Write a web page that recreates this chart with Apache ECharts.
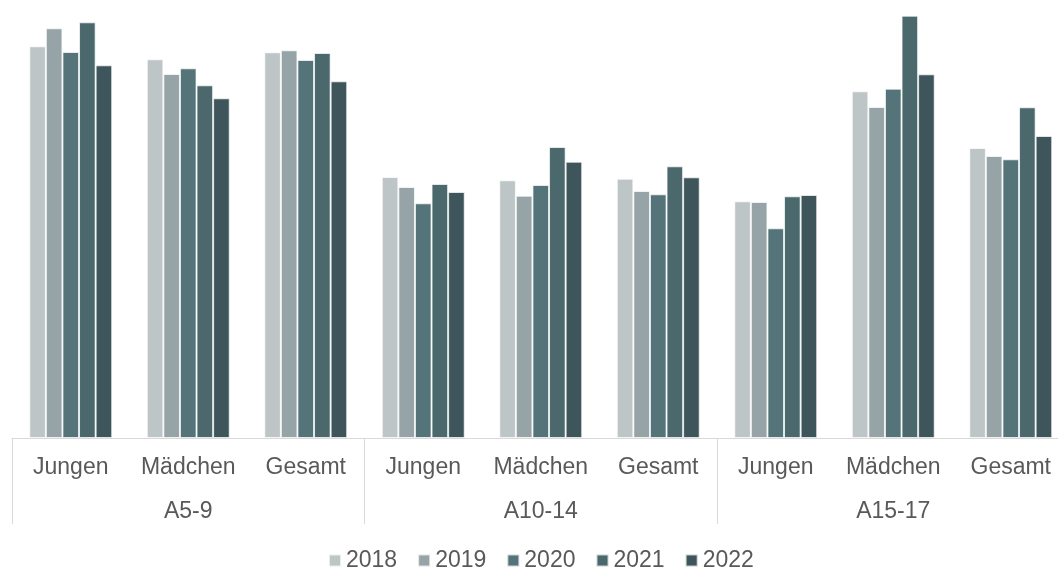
<!DOCTYPE html>
<html>
<head>
<meta charset="utf-8">
<script src="https://cdn.jsdelivr.net/npm/echarts@6/dist/echarts.min.js"></script>
<style>
  html, body { margin: 0; padding: 0; background: #fff; }
  #chart { width: 1058px; height: 571px; }
</style>
</head>
<body>
<div id="chart"></div>
<script>
// categories (inner level) and age groups (outer level)
const categories = ['Jungen', 'Mädchen', 'Gesamt', 'Jungen', 'Mädchen', 'Gesamt', 'Jungen', 'Mädchen', 'Gesamt'];
const groups = ['A5-9', 'A10-14', 'A15-17'];
const years = ['2018', '2019', '2020', '2021', '2022'];

// values (no y axis shown, relative units)
const values2018 = [391.7, 378.7, 385.7, 261.0, 257.7, 259.3, 236.7, 346.7, 290.0];
const values2019 = [409.7, 364.0, 387.7, 251.0, 242.3, 247.0, 236.0, 331.0, 282.0];
const values2020 = [386.0, 369.7, 378.0, 234.7, 253.0, 243.7, 209.7, 349.3, 278.7];
const values2021 = [415.7, 352.7, 385.0, 254.0, 291.0, 271.7, 241.7, 422.3, 330.7];
const values2022 = [372.7, 339.7, 356.7, 246.0, 276.3, 260.7, 243.0, 363.7, 302.0];
const yMax = 438;

const colors = ['#bec5c6', '#96a3a7', '#557479', '#4b686d', '#3e565b'];
const allValues = [values2018, values2019, values2020, values2021, values2022];

const font = 'Liberation Sans, Arial, sans-serif';
const textColor = '#595959';
const lineColor = '#d9d9d9';

const chart = echarts.init(document.getElementById('chart'));

const option = {
  animation: false,
  color: colors,
  // plot runs past the right edge (reference is cropped there)
  grid: { left: 12, top: 0, width: 1057.5, height: 438, outerBoundsMode: 'none', containLabel: false },
  legend: {
    data: years,
    left: 328,
    top: 549,
    padding: 0,
    icon: 'rect',
    itemWidth: 12,
    itemHeight: 12,
    itemGap: 20,
    textStyle: { fontSize: 23, color: textColor, fontFamily: font }
  },
  xAxis: [
    {
      type: 'category',
      data: categories,
      position: 'bottom',
      axisLine: { lineStyle: { color: lineColor, width: 1 } },
      axisTick: { show: false },
      axisLabel: { interval: 0, margin: 18, fontSize: 23, color: textColor, fontFamily: font }
    },
    {
      // outer level: group labels + separator lines
      type: 'category',
      data: groups,
      position: 'bottom',
      axisLine: { show: false },
      axisTick: { show: true, interval: 0, length: 86, lineStyle: { color: lineColor, width: 1 } },
      axisLabel: { interval: 0, margin: 62, fontSize: 23, color: textColor, fontFamily: font }
    }
  ],
  yAxis: {
    type: 'value',
    min: 0,
    max: yMax,
    show: false,
    splitLine: { show: false }
  },
  series: years.map((y, i) => ({
    name: y,
    type: 'bar',
    xAxisIndex: 0,
    data: allValues[i],
    barGap: '0%',
    barCategoryGap: '29.4%',
    itemStyle: { color: colors[i], borderColor: 'rgba(255,255,255,0.7)', borderWidth: 1 }
  }))
};

chart.setOption(option);
</script>
</body>
</html>
